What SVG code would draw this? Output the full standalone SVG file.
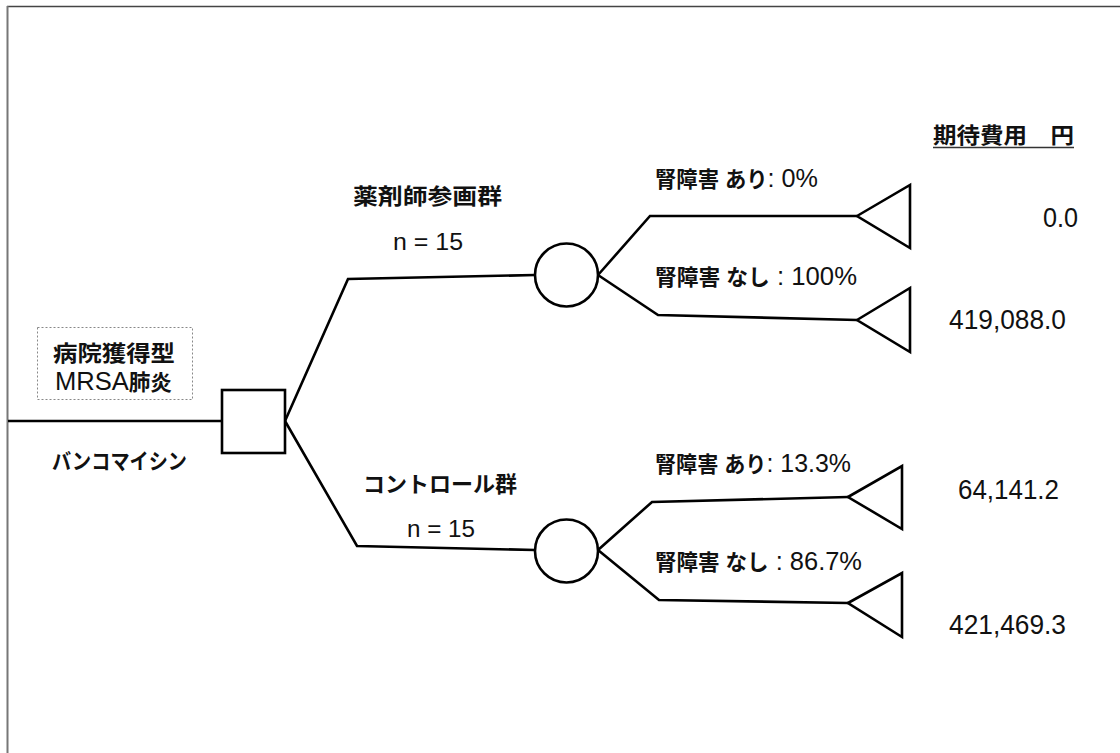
<svg xmlns="http://www.w3.org/2000/svg" width="1120" height="753" viewBox="0 0 1120 753">
<style>
.ln{fill:none;stroke:#000;stroke-width:2.6;stroke-linejoin:miter}
.nd{fill:#fff;stroke:#000;stroke-width:2.6}
.jp{font-family:"Liberation Sans","Noto Sans CJK JP",sans-serif;font-weight:bold;font-size:22px;fill:#111}
.la{font-size:26px;font-weight:normal}
.num{font-family:"Liberation Sans","Noto Sans CJK JP",sans-serif;font-size:27px;fill:#111}
.nn{font-family:"Liberation Sans",sans-serif;font-size:24px;fill:#111}
</style>
<rect width="1120" height="753" fill="#fff"/>
<line x1="7" y1="6.5" x2="1120" y2="6.5" stroke="#444" stroke-width="1.5"/>
<line x1="7.5" y1="6" x2="7.5" y2="753" stroke="#777" stroke-width="2"/>

<g id="connectors">
<path class="ln" d="M8,421 H222"/>
<path class="ln" d="M285,421 L348,279 L535,275"/>
<path class="ln" d="M285,421 L357,546 L535,550"/>
<path class="ln" d="M598,275 L650,216 L857,216"/>
<path class="ln" d="M598,275 L658,315 L857,320"/>
<path class="ln" d="M598,550 L652,502 L848,497"/>
<path class="ln" d="M598,550 L659,600 L848,603"/>
</g>

<g id="root-label">
<rect x="37.5" y="327.5" width="155" height="72" fill="none" stroke="#888" stroke-width="1" stroke-dasharray="2,2"/>
<text class="jp" x="53" y="361" textLength="122" lengthAdjust="spacingAndGlyphs">病院獲得型</text>
<text class="jp" x="55" y="390" textLength="117" lengthAdjust="spacingAndGlyphs"><tspan class="la">MRSA</tspan>肺炎</text>
</g>
<g id="decision">
<rect class="nd" x="222" y="390" width="63" height="63"/>
<text class="jp" x="52" y="469" textLength="135" lengthAdjust="spacingAndGlyphs">バンコマイシン</text>
</g>

<g id="chance-pharm">
<circle class="nd" cx="566.5" cy="275" r="31.5"/>
<text class="jp" x="353" y="204" textLength="149" lengthAdjust="spacingAndGlyphs">薬剤師参画群</text>
<text class="nn" x="393" y="250" textLength="70" lengthAdjust="spacingAndGlyphs">n = 15</text>
</g>
<g id="chance-control">
<circle class="nd" cx="566.5" cy="551" r="31.5"/>
<text class="jp" x="363" y="492" textLength="154" lengthAdjust="spacingAndGlyphs">コントロール群</text>
<text class="nn" x="407" y="537" textLength="68" lengthAdjust="spacingAndGlyphs">n = 15</text>
</g>

<g id="header">
<text class="jp" x="933" y="143" textLength="141" lengthAdjust="spacingAndGlyphs">期待費用　円</text>
<line x1="933" y1="147.5" x2="1074" y2="147.5" stroke="#333" stroke-width="1.5"/>
</g>

<g id="t1">
<polygon class="nd" points="857,216 910,185 910,248"/>
<text class="jp" x="655" y="187" textLength="163" lengthAdjust="spacingAndGlyphs">腎障害 あり<tspan class="la">: 0%</tspan></text>
<text class="num" x="1043" y="227" textLength="35" lengthAdjust="spacingAndGlyphs">0.0</text>
</g>
<g id="t2">
<polygon class="nd" points="857,320 910,288 910,352"/>
<text class="jp" x="655" y="285" textLength="202" lengthAdjust="spacingAndGlyphs">腎障害 なし<tspan class="la"> : 100%</tspan></text>
<text class="num" x="949" y="329" textLength="117" lengthAdjust="spacingAndGlyphs">419,088.0</text>
</g>
<g id="t3">
<polygon class="nd" points="848,497 902,466 902,529"/>
<text class="jp" x="655" y="472" textLength="196" lengthAdjust="spacingAndGlyphs">腎障害 あり<tspan class="la">: 13.3%</tspan></text>
<text class="num" x="958" y="499" textLength="101" lengthAdjust="spacingAndGlyphs">64,141.2</text>
</g>
<g id="t4">
<polygon class="nd" points="848,603 902,573 902,637"/>
<text class="jp" x="655" y="570" textLength="207" lengthAdjust="spacingAndGlyphs">腎障害 なし<tspan class="la"> : 86.7%</tspan></text>
<text class="num" x="949" y="634" textLength="117" lengthAdjust="spacingAndGlyphs">421,469.3</text>
</g>
</svg>
